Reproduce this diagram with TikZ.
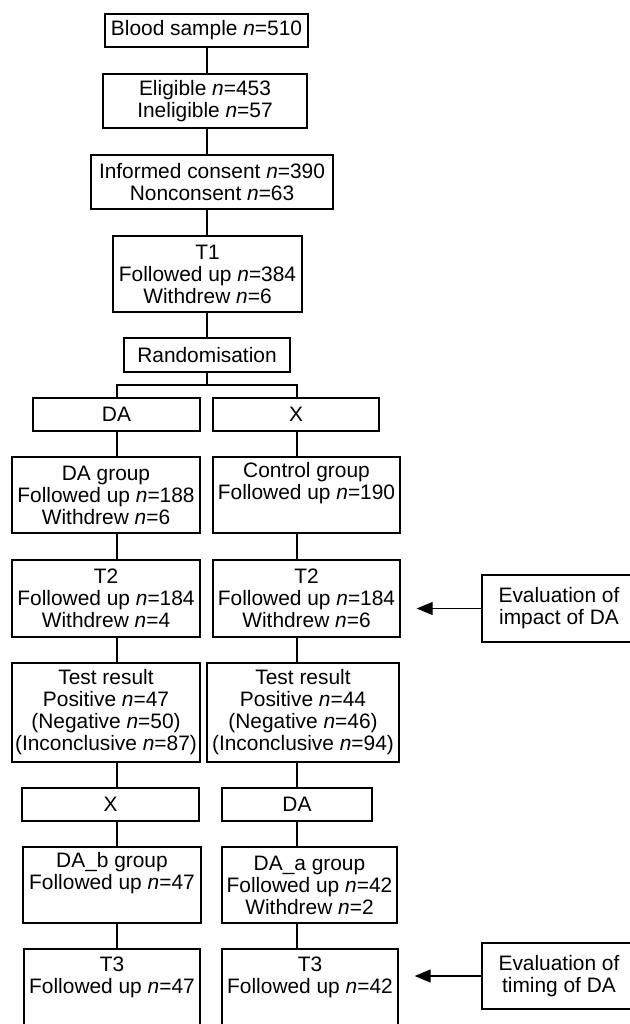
\documentclass[tikz,border=0pt]{standalone}
\usepackage{fontspec}
\setmainfont{Liberation Sans}
\usetikzlibrary{arrows.meta}
\newcommand{\nn}{\textit{n}=}

\begin{document}
\begin{tikzpicture}[x=1pt, y=-1pt,
    box/.style={draw, line width=1.3pt, align=center, inner sep=0pt,
        font=\fontsize{20.9}{22}\selectfont},
    link/.style={line width=1.3pt},
    evalarrow/.style={line width=1.3pt, -{Triangle[length=16pt, width=13pt]}, shorten >=16pt}]
    \useasboundingbox (0,0) rectangle (629,1024);

    % trunk
    \node[box, minimum width=203pt, minimum height=33pt] (blood) at (206.5,30.5) {Blood sample \nn510};
    \node[box, minimum width=204pt, minimum height=54pt] (elig) at (205,101) {Eligible \nn453\\Ineligible \nn57};
    \node[box, minimum width=242pt, minimum height=54pt] (consent) at (212,182) {Informed consent \nn390\\Nonconsent \nn63};
    \node[box, minimum width=189pt, minimum height=76pt] (t1) at (207.5,274) {T1\\Followed up \nn384\\Withdrew \nn6};
    \node[box, line width=2.6pt, minimum width=166pt, minimum height=34pt] (rand) at (207,355) {Randomisation};

    % columns
    \coordinate (colC) at (207,0);
    \coordinate (colL) at (117,0);
    \coordinate (colR) at (297,0);
    \coordinate (split) at (207,385);

    % first arm
    \node[box, minimum width=167pt, minimum height=33pt] (daA) at (116.5,414.5) {DA};
    \node[box, minimum width=166pt, minimum height=33pt] (xA) at (296,414.5) {X};
    \node[box, minimum width=188pt, minimum height=76pt] (dagrp) at (106,495) {DA group\\Followed up \nn188\\Withdrew \nn6};
    \node[box, minimum width=187pt, minimum height=76pt] (ctrl) at (306.5,495) {Control group\\Followed up \nn190\\\strut};
    \node[box, minimum width=188pt, minimum height=77pt] (t2a) at (106,598.5) {T2\\Followed up \nn184\\Withdrew \nn4};
    \node[box, minimum width=187pt, minimum height=77pt] (t2b) at (306.5,598.5) {T2\\Followed up \nn184\\Withdrew \nn6};
    \node[box, minimum width=188pt, minimum height=99pt] (testa) at (106,712.5) {Test result\\Positive \nn47\\(Negative \nn50)\\(Inconclusive \nn87)};
    \node[box, minimum width=192pt, minimum height=99pt] (testb) at (303,712.5) {Test result\\Positive \nn44\\(Negative \nn46)\\(Inconclusive \nn94)};

    % second arm
    \node[box, minimum width=177pt, minimum height=33pt] (xB) at (110.5,804.5) {X};
    \node[box, minimum width=150pt, minimum height=33pt] (daB) at (297,804.5) {DA};
    \node[box, minimum width=178pt, minimum height=76pt] (dab) at (112,885) {DA\_b group\\Followed up \nn47\\\strut};
    \node[box, minimum width=175pt, minimum height=76pt] (daa) at (309.5,885) {DA\_a group\\Followed up \nn42\\Withdrew \nn2};
    \node[box, minimum width=176pt, minimum height=80pt] (t3a) at (112,989) {T3\\Followed up \nn47\\\strut};
    \node[box, minimum width=176pt, minimum height=80pt] (t3b) at (310,989) {T3\\Followed up \nn42\\\strut};

    % evaluations
    \node[box, minimum width=154pt, minimum height=67pt] (evimp) at (559,608.5) {Evaluation of\\impact of DA};
    \node[box, minimum width=154pt, minimum height=66pt] (evtim) at (559,976) {Evaluation of\\timing of DA};

    % connectors
    \draw[link] (blood.south -| colC) -- (elig.north -| colC);
    \draw[link] (elig.south -| colC) -- (consent.north -| colC);
    \draw[link] (consent.south -| colC) -- (t1.north -| colC);
    \draw[link] (t1.south -| colC) -- (rand.north -| colC);
    \draw[link] (rand.south -| colC) -- (split);
    \draw[link] (daA.north -| colL) |- (split) -| (xA.north -| colR);
    \foreach \a/\b in {daA/dagrp, dagrp/t2a, t2a/testa, testa/xB, xB/dab, dab/t3a}
        \draw[link] (\a.south -| colL) -- (\b.north -| colL);
    \foreach \a/\b in {xA/ctrl, ctrl/t2b, t2b/testb, testb/daB, daB/daa, daa/t3b}
        \draw[link] (\a.south -| colR) -- (\b.north -| colR);
    \draw[evalarrow] (evimp.west) -- (evimp.west -| t2b.east);
    \draw[evalarrow] (evtim.west) -- (evtim.west -| t3b.east);
\end{tikzpicture}
\end{document}
